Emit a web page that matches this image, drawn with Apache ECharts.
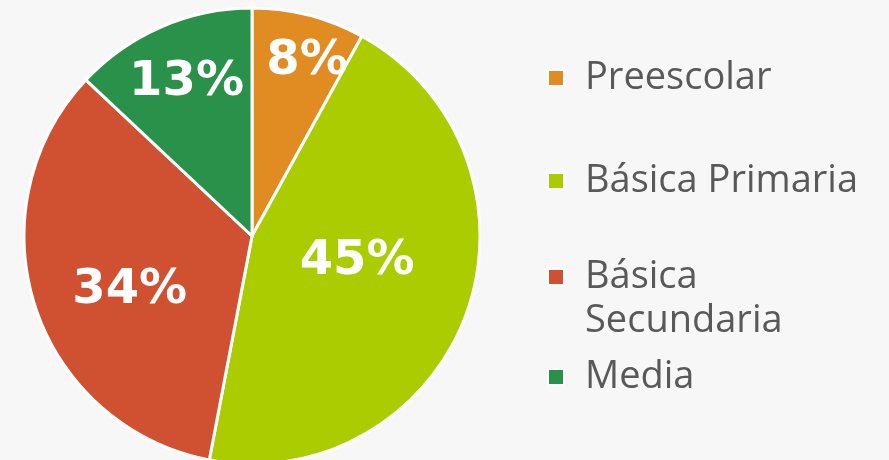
<!DOCTYPE html>
<html lang="es">
<head>
    <meta charset="UTF-8">
    <title>Niveles</title>
    <script src="https://cdn.jsdelivr.net/npm/echarts@6/dist/echarts.min.js"></script>
    <style>
        html, body { margin: 0; padding: 0; background: #f7f7f7; }
        #pie_box { width: 889px; height: 460px; }
    </style>
</head>
<body>
<div id="pie_box"></div>
<script>
    // datos
    var niveles = ['Preescolar', 'Básica Primaria', 'Básica Secundaria', 'Media'];
    var porcentajes = [8, 45, 34, 13];
    var colores = ['#e08c22', '#abcd00', '#d05032', '#2a914a'];
    // desplazamiento de las etiquetas dentro de cada sector
    var desplaza = [[26, -61], [-5, -14], [-11, 18], [-19, -46]];

    var pie_box = echarts.init(document.getElementById('pie_box'));

    var datos = niveles.map(function (n, i) {
        return {
            name: n,
            value: porcentajes[i],
            itemStyle: {color: colores[i]},
            label: {offset: desplaza[i]}
        };
    });

    var textoLeyenda = {
        color: '#595959',
        fontSize: 38,
        lineHeight: 44,
        fontFamily: 'Open Sans',
        padding: [0, 0, 0, 16]
    };
    var iconoLeyenda = {borderColor: '#ffffff', borderWidth: 2};

    var option = {
        backgroundColor: '#f7f7f7',
        animation: false,
        legend: [
            {   // dos primeros
                orient: 'vertical',
                left: 547,
                top: 56,
                padding: 0,
                itemGap: 59,
                itemWidth: 16,
                itemHeight: 16,
                icon: 'rect',
                itemStyle: iconoLeyenda,
                textStyle: textoLeyenda,
                data: [niveles[0], niveles[1]]
            },
            {   // Básica Secundaria y Media
                orient: 'vertical',
                left: 547,
                top: 211,
                padding: 0,
                itemGap: 12,
                itemWidth: 16,
                itemHeight: 16,
                icon: 'rect',
                itemStyle: iconoLeyenda,
                textStyle: textoLeyenda,
                // línea vacía arriba para que el cuadro quede junto a "Básica"
                formatter: function (n) {
                    return n === 'Básica Secundaria' ? ' \nBásica\nSecundaria' : n;
                },
                data: [niveles[2], niveles[3]]
            }
        ],
        series: [
            {
                type: 'pie',
                center: [252, 236],
                radius: 228,
                startAngle: 90,
                clockwise: true,
                itemStyle: {borderColor: '#ffffff', borderWidth: 3},
                label: {
                    show: true,
                    position: 'inside',
                    formatter: '{c}%',
                    color: '#ffffff',
                    fontSize: 48,
                    fontWeight: 'bold',
                    fontFamily: 'DejaVu Sans'
                },
                labelLine: {show: false},
                emphasis: {disabled: true},
                data: datos
            }
        ]
    };
    pie_box.setOption(option);
</script>
</body>
</html>
